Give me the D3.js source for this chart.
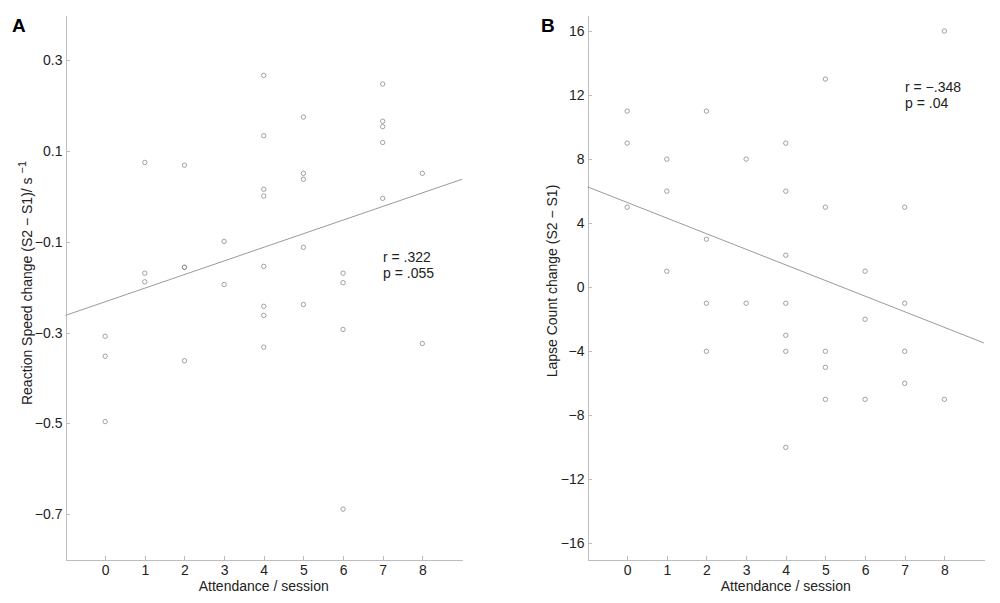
<!DOCTYPE html>
<html>
<head>
<meta charset="utf-8">
<script src="https://cdn.jsdelivr.net/npm/d3@7"></script>
<style>
  body { margin: 0; background: #fff; }
  svg { font-family: "Liberation Sans", Arial, Helvetica, sans-serif; }
  .axis path, .axis line { stroke: #bdbdbd; stroke-width: 1; shape-rendering: crispEdges; }
  .axis text { fill: #222; font-size: 14px; }
</style>
</head>
<body>
<svg id="chart" width="1000" height="603"></svg>
<script>
// attendance ticks shared by both panels
const attendanceTicks = [0, 1, 2, 3, 4, 5, 6, 7, 8];

// panel A: reaction speed change
const speedAttendance = [0, 0, 0, 1, 1, 1, 2, 2, 2, 2, 3, 3,
  4, 4, 4, 4, 4, 4, 4, 4, 5, 5, 5, 5, 5, 6, 6, 6, 6, 7, 7, 7, 7, 7, 8, 8];
const speedChange = [-0.308, -0.352, -0.496, 0.075, -0.169, -0.188, 0.069, -0.156, -0.156, -0.362, -0.099, -0.194,
  0.267, 0.134, 0.016, 0.001, -0.154, -0.242, -0.262, -0.332, 0.175, 0.051, 0.038, -0.112, -0.238,
  -0.169, -0.19, -0.293, -0.689, 0.248, 0.166, 0.154, 0.119, -0.004, 0.051, -0.324];
const speedTicks = [-0.7, -0.5, -0.3, -0.1, 0.1, 0.3];
const speedFitX = [-1, 9];
const speedFitY = [-0.262, 0.038];

// panel B: lapse count change
const lapseAttendance = [0, 0, 0, 1, 1, 1, 2, 2, 2, 2, 3, 3,
  4, 4, 4, 4, 4, 4, 4, 5, 5, 5, 5, 5, 6, 6, 6, 7, 7, 7, 7, 8, 8];
const lapseChange = [11, 9, 5, 8, 6, 1, 11, 3, -1, -4, 8, -1,
  9, 6, 2, -1, -3, -4, -10, 13, 5, -4, -5, -7, 1, -2, -7, 5, -1, -4, -6, 16, -7];
const lapseTicks = [-16, -12, -8, -4, 0, 4, 8, 12, 16];
const lapseFitX = [-1, 9];
const lapseFitY = [6.27, -3.48];

const svg = d3.select('#chart');
const plotTop = 15;
const plotBottom = 559.5;

function fmt(v) {
  const s = String(Math.abs(v));
  return (v < 0 ? '\u2212' : '') + s;
}

function drawPanel(opts) {
  const xscale = d3.scaleLinear()
    .domain([-1, 9])
    .range([opts.left, opts.right]);

  const yscale = d3.scaleLinear()
    .domain(opts.yDomain)
    .range([plotBottom, plotTop]);

  const g = svg.append('g');

  const bottomAxis = d3.axisBottom(xscale)
    .tickValues(attendanceTicks)
    .tickFormat(d3.format('d'))
    .tickSizeInner(-4)
    .tickSizeOuter(0)
    .tickPadding(5.5);
  g.append('g')
    .attr('class', 'axis')
    .attr('transform', `translate(0, ${plotBottom})`)
    .call(bottomAxis);

  const leftAxis = d3.axisLeft(yscale)
    .tickValues(opts.yTicks)
    .tickFormat(fmt)
    .tickSizeInner(-4)
    .tickSizeOuter(0)
    .tickPadding(3);
  g.append('g')
    .attr('class', 'axis')
    .attr('transform', `translate(${opts.left}, 0)`)
    .call(leftAxis);

  g.selectAll('.axis .domain').attr('stroke', '#bdbdbd');

  // fit line
  const line = d3.line()
    .x((d) => xscale(d[0]))
    .y((d) => yscale(d[1]));
  g.append('path')
    .datum(d3.zip(opts.fitX, opts.fitY))
    .attr('d', line)
    .attr('fill', 'none')
    .attr('stroke', '#9a9a9a')
    .attr('stroke-width', 1);

  // points
  g.append('g')
    .selectAll('circle')
    .data(d3.zip(opts.xs, opts.ys))
    .enter()
    .append('circle')
    .attr('cx', (d) => xscale(d[0]))
    .attr('cy', (d) => yscale(d[1]))
    .attr('r', 2.2)
    .attr('fill', 'none')
    .attr('stroke', '#8a8a8a')
    .attr('stroke-width', 0.8);

  // stats text
  const stats = g.append('text')
    .attr('font-size', 14)
    .attr('fill', '#222');
  stats.append('tspan')
    .attr('x', opts.statX)
    .attr('y', opts.statY)
    .text(opts.rText);
  stats.append('tspan')
    .attr('x', opts.statX)
    .attr('y', opts.statY + 16)
    .text(opts.pText);

  // x label
  g.append('text')
    .attr('x', (opts.left + opts.right) / 2)
    .attr('y', 591)
    .attr('text-anchor', 'middle')
    .attr('font-size', 14)
    .attr('fill', '#222')
    .text('Attendance / session');

  // y label
  const yl = g.append('text')
    .attr('transform', `translate(${opts.yLabelX}, ${opts.yLabelY}) rotate(-90)`)
    .attr('text-anchor', 'middle')
    .attr('font-size', 14)
    .attr('fill', '#222');
  yl.append('tspan').text(opts.yLabel);
  if (opts.sup) {
    yl.append('tspan')
      .attr('dy', -6)
      .attr('font-size', 11)
      .text(opts.sup);
  }

  // panel letter
  svg.append('text')
    .attr('x', opts.letterX)
    .attr('y', 32)
    .attr('font-size', 19)
    .attr('font-weight', 'bold')
    .attr('fill', '#000')
    .text(opts.letter);
}

drawPanel({
  left: 65.5, right: 462,
  yDomain: [-0.8, 0.4], yTicks: speedTicks,
  xs: speedAttendance, ys: speedChange,
  fitX: speedFitX, fitY: speedFitY,
  statX: 383, statY: 262, rText: 'r = .322', pText: 'p = .055',
  yLabel: 'Reaction Speed change (S2 \u2212 S1)/ s ', sup: '\u22121',
  yLabelX: 32, yLabelY: 283,
  letter: 'A', letterX: 12
});

drawPanel({
  left: 587.5, right: 984,
  yDomain: [-17, 17], yTicks: lapseTicks,
  xs: lapseAttendance, ys: lapseChange,
  fitX: lapseFitX, fitY: lapseFitY,
  statX: 905, statY: 92, rText: 'r = \u2212.348', pText: 'p = .04',
  yLabel: 'Lapse Count change (S2 \u2212 S1)', sup: null,
  yLabelX: 557, yLabelY: 281,
  letter: 'B', letterX: 541
});
</script>
</body>
</html>
